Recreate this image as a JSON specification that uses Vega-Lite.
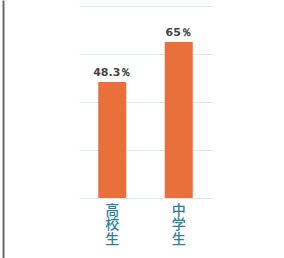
{
  "$schema": "https://vega.github.io/schema/vega-lite/v6.json",
  "autosize": {"type": "none"},
  "padding": {"left": 79, "top": 0, "right": 72, "bottom": 0},
  "width": 133,
  "height": 258,
  "background": "#ffffff",
  "config": {"view": {"stroke": null}},
  "data": {"values": [
    {"group": "高校生", "value": 48.3, "label": "48.3％"},
    {"group": "中学生", "value": 65, "label": "65％"}
  ]},
  "encoding": {
    "x": {"field": "group", "type": "nominal", "sort": null,
      "scale": {"paddingInner": 0.5, "paddingOuter": 0.25},
      "axis": {"title": null, "orient": "bottom", "offset": -60, "domain": false, "ticks": false, "labelAngle": 0,
        "labelExpr": "split(datum.label, '')", "labelLineHeight": 14.5, "labelFont": "Noto Sans CJK JP",
        "labelFontSize": 14, "labelFontWeight": 500, "labelColor": "#2a7fa0", "labelPadding": 5, "labelBaseline": "top"}},
    "y": {"field": "value", "type": "quantitative",
      "scale": {"domain": [-25, 82.5], "nice": false, "zero": false},
      "axis": {"title": null, "values": [0, 20, 40, 60, 80], "labels": false, "ticks": false,
        "domain": true, "domainColor": "#6a6a6a", "domainWidth": 2, "offset": 76,
        "grid": true, "gridColor": "#d6eaf2", "gridWidth": 1}}
  },
  "layer": [
    {"mark": {"type": "bar", "color": "#e9703a", "size": 28}},
    {"mark": {"type": "text", "baseline": "bottom", "dy": -4, "font": "DejaVu Sans", "fontSize": 11, "fontWeight": "bold", "color": "#444444"},
     "encoding": {"text": {"field": "label"}}}
  ]
}
